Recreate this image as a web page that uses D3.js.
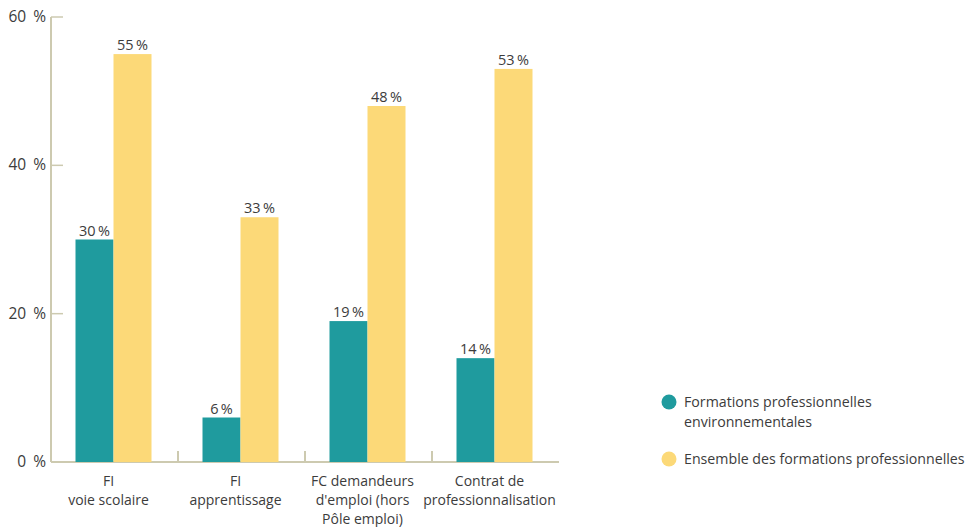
<!DOCTYPE html>
<html>
<head>
<meta charset="utf-8">
<script src="https://cdn.jsdelivr.net/npm/d3@7"></script>
<style>
  body { margin: 0; background: #fff; }
  svg { font-family: "Open Sans", "Noto Sans", sans-serif; }
</style>
</head>
<body>
<svg id="chart" width="979" height="527"></svg>
<script>
// data
var categories = [
  ["FI", "voie scolaire"],
  ["FI", "apprentissage"],
  ["FC demandeurs", "d'emploi (hors", "Pôle emploi)"],
  ["Contrat de", "professionnalisation"]
];
var seriesNames = ["Formations professionnelles environnementales", "Ensemble des formations professionnelles"];
var envValues = [30, 6, 19, 14];
var allValues = [55, 33, 48, 53];
var yTicks = [0, 20, 40, 60];

var colors = ["#1f9b9e", "#fcd978"];
var axisColor = "#cdcab0";
var textColor = "#3c3c3c";

var svg = d3.select("#chart");

var x0 = 51, x1 = 559, yTop = 17, yBottom = 462;

var x = d3.scaleBand()
  .domain(d3.range(categories.length))
  .range([x0, x1]);

var xInner = d3.scaleBand()
  .domain([0, 1])
  .range([0, 76]);

var y = d3.scaleLinear().domain([0, 60]).range([yBottom, yTop]);

// y axis line + ticks (pointing inward)
svg.append("line")
  .attr("x1", x0).attr("x2", x0)
  .attr("y1", y(60)).attr("y2", y(0))
  .attr("stroke", axisColor).attr("stroke-width", 2);

svg.selectAll(".ytick").data(yTicks.filter(function(d){ return d > 0; }))
  .enter().append("line")
  .attr("x1", x0).attr("x2", x0 + 12)
  .attr("y1", function(d){ return y(d); })
  .attr("y2", function(d){ return y(d); })
  .attr("stroke", axisColor).attr("stroke-width", 1.5);

svg.selectAll(".ylab").data(yTicks)
  .enter().append("text")
  .attr("x", x0 - 5)
  .attr("y", function(d){ return y(d) + 5; })
  .attr("text-anchor", "end")
  .attr("font-size", 15.5)
  .attr("word-spacing", 3)
  .attr("fill", textColor)
  .text(function(d){ return d + " %"; });

// x axis
svg.append("line")
  .attr("x1", x0).attr("x2", x1)
  .attr("y1", yBottom).attr("y2", yBottom)
  .attr("stroke", axisColor).attr("stroke-width", 2);

svg.selectAll(".xtick").data(d3.range(1, categories.length))
  .enter().append("line")
  .attr("x1", function(d){ return x(d); })
  .attr("x2", function(d){ return x(d); })
  .attr("y1", yBottom).attr("y2", yBottom - 11)
  .attr("stroke", axisColor).attr("stroke-width", 2);

// bars
var groups = svg.selectAll(".grp").data(categories)
  .enter().append("g")
  .attr("transform", function(d, i){ return "translate(" + (x(i) + x.bandwidth()/2 - 39) + ",0)"; });

[envValues, allValues].forEach(function(vals, s) {
  groups.append("rect")
    .attr("x", xInner(s))
    .attr("width", xInner.bandwidth())
    .attr("y", function(d, i){ return y(vals[i]); })
    .attr("height", function(d, i){ return yBottom - y(vals[i]); })
    .attr("fill", colors[s]);

  groups.append("text")
    .attr("x", xInner(s) + xInner.bandwidth()/2)
    .attr("y", function(d, i){ return y(vals[i]) - 4; })
    .attr("text-anchor", "middle")
    .attr("font-size", 14.5)
    .attr("fill", textColor)
    .text(function(d, i){ return vals[i] + "\u2009%"; });
});

// category labels
categories.forEach(function(lines, i) {
  var t = svg.append("text")
    .attr("text-anchor", "middle")
    .attr("font-size", 14)
    .attr("fill", textColor);
  lines.forEach(function(l, k) {
    t.append("tspan")
      .attr("x", x(i) + x.bandwidth()/2 - 6)
      .attr("y", 486 + k * 19)
      .text(l);
  });
});

// legend
var legend = [
  { lines: ["Formations professionnelles", "environnementales"], y: 402 },
  { lines: ["Ensemble des formations professionnelles"], y: 459 }
];
legend.forEach(function(l, i) {
  svg.append("circle")
    .attr("cx", 669).attr("cy", l.y)
    .attr("r", 7.5)
    .attr("fill", colors[i]);
  var t = svg.append("text")
    .attr("font-size", 14.2)
    .attr("fill", textColor);
  l.lines.forEach(function(s, k) {
    t.append("tspan")
      .attr("x", 684)
      .attr("y", l.y + 5 + k * 19.5)
      .text(s);
  });
});
</script>
</body>
</html>
